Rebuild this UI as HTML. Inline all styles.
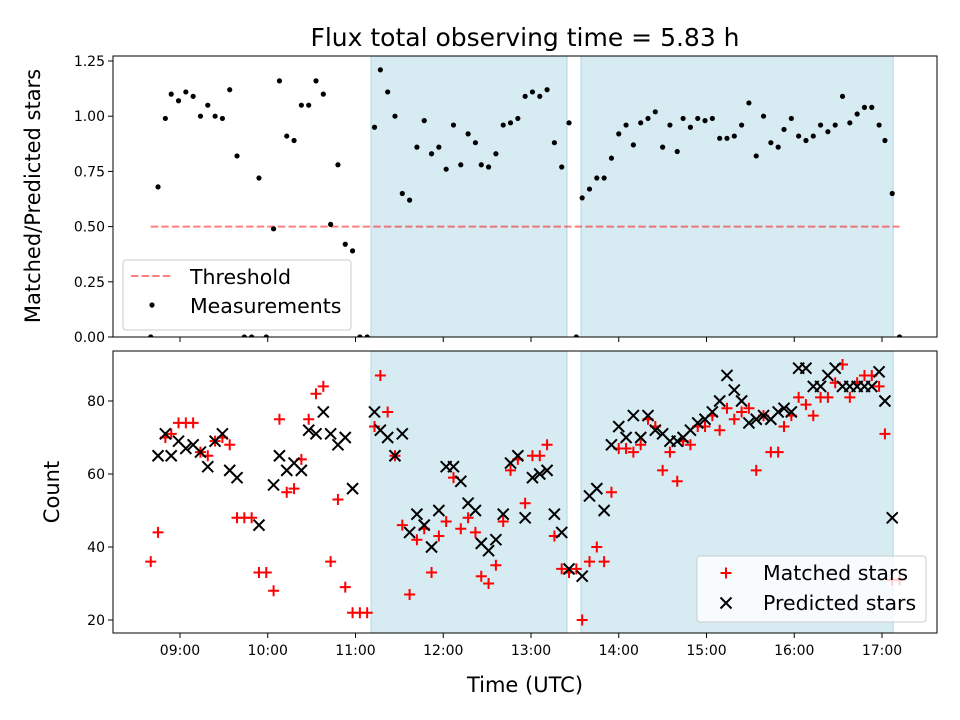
<!DOCTYPE html>
<html><head><meta charset="utf-8"><style>
body{margin:0;background:#fff;}
svg{display:block;font-family:"DejaVu Sans","Liberation Sans",sans-serif;}
</style></head><body>
<svg id="chart" width="960" height="720" viewBox="0 0 960 720" xmlns="http://www.w3.org/2000/svg">
<defs>
<clipPath id="clipTop"><rect x="113" y="56" width="824" height="281"/></clipPath>
<clipPath id="clipBot"><rect x="113" y="351" width="824" height="282"/></clipPath>
</defs>
<text x="525" y="46" font-size="25" text-anchor="middle">Flux total observing time = 5.83 h</text>
<g id="top"></g>
<g id="bot"></g>
<text transform="translate(40,196) rotate(-90)" font-size="21" text-anchor="middle">Matched/Predicted stars</text>
<text transform="translate(59,492) rotate(-90)" font-size="21" text-anchor="middle">Count</text>
<text x="525" y="692" font-size="21" text-anchor="middle">Time (UTC)</text>
</svg>
<script>
// times in minutes since midnight (UTC)
const times=[520,525,530,534,539,544,549,554,559,564,569,574,579,584,589,594,599,604,608,613,618,623,628,633,638,643,648,653,658,663,668,673,677,682,687,692,697,702,707,712,717,722,727,732,737,742,746,751,756,761,766,771,776,781,786,791,796,801,806,811,815,820,825,830,835,840,845,850,855,860,865,870,875,880,884,889,894,899,904,909,914,919,924,929,934,939,944,949,953,958,963,968,973,978,983,988,993,998,1003,1008,1013,1018,1022,1027,1032];
const ratios=[0,0.68,0.99,1.10,1.07,1.11,1.09,1.00,1.05,1.00,0.99,1.12,0.82,0,0,0.72,0,0.49,1.16,0.91,0.89,1.05,1.05,1.16,1.10,0.51,0.78,0.42,0.39,0,0,0.95,1.21,1.11,1.00,0.65,0.62,0.86,0.98,0.83,0.86,0.76,0.96,0.78,0.92,0.88,0.78,0.77,0.83,0.96,0.97,0.99,1.09,1.11,1.09,1.12,0.88,0.77,0.97,0,0.63,0.67,0.72,0.72,0.81,0.92,0.96,0.87,0.97,0.99,1.02,0.86,0.96,0.84,0.99,0.95,0.99,0.98,0.99,0.90,0.90,0.91,0.96,1.06,0.82,1.00,0.88,0.86,0.94,0.99,0.91,0.89,0.91,0.96,0.93,0.96,1.09,0.97,1.01,1.04,1.04,0.96,0.89,0.65,0];
const matched=[36,44,70,71,74,74,74,66,65,69,70,68,48,48,48,33,33,28,75,55,56,64,75,82,84,36,53,29,22,22,22,73,87,77,65,46,27,42,45,33,43,47,59,45,48,44,32,30,35,47,61,64,52,65,65,68,43,34,33,34,20,36,40,36,55,67,67,66,68,75,73,61,66,58,69,68,73,73,76,72,78,75,77,78,61,76,66,66,73,76,81,79,76,81,81,85,90,81,85,87,87,84,71,31,31];
const predicted=[null,65,71,65,69,67,68,66,62,69,71,61,59,null,null,46,null,57,65,61,63,61,72,71,77,71,68,70,56,null,null,77,72,70,65,71,44,49,46,40,50,62,62,58,52,50,41,39,42,49,63,65,48,59,60,61,49,44,34,null,32,54,56,50,68,73,70,76,70,76,72,71,69,69,70,72,74,75,77,80,87,83,80,74,75,76,75,77,78,77,89,89,84,84,87,89,84,84,84,84,84,88,80,48,null];
const spans=[[670.6,804.6],[814.2,1027.6]];
const threshold=0.5;
const xTickMinutes=[540,600,660,720,780,840,900,960,1020];
const xTickLabels=["09:00","10:00","11:00","12:00","13:00","14:00","15:00","16:00","17:00"];
const topTicks=[0,0.25,0.5,0.75,1.0,1.25];
const topTickLabels=["0.00","0.25","0.50","0.75","1.00","1.25"];
const botTicks=[20,40,60,80];
const botTickLabels=["20","40","60","80"];

const NS="http://www.w3.org/2000/svg";
const X0=113,X1=937,TMIN=494.2,TMAX=1057.6;
const xs=t=>X0+(t-TMIN)/(TMAX-TMIN)*(X1-X0);
const T={y0:337,y1:56,v0:0,v1:1.2727};
const B={y0:633,y1:351,v0:16.44,v1:93.7};
const yt=v=>T.y0+(v-T.v0)/(T.v1-T.v0)*(T.y1-T.y0);
const yb=v=>B.y0+(v-B.v0)/(B.v1-B.v0)*(B.y1-B.y0);
function mk(tag,attrs,parent){const e=document.createElementNS(NS,tag);for(const k in attrs)e.setAttribute(k,attrs[k]);parent.appendChild(e);return e;}

function panel(g,top,bottom,clip){
  const cg=mk('g',{'clip-path':'url(#'+clip+')'},g);
  spans.forEach((s,i)=>{
    const r=mk('rect',{x:xs(s[0]),y:top,width:xs(s[1])-xs(s[0]),height:bottom-top,fill:'#add8e6','fill-opacity':0.5,stroke:'#add8e6','stroke-width':1},cg);
    
    
  });
  return cg;
}
function frame(g,top,bottom,labels){
  xTickMinutes.forEach((m,i)=>{
    const x=xs(m);
    mk('line',{x1:x,x2:x,y1:bottom,y2:bottom+5,stroke:'#000','stroke-width':1},g);
    if(labels){const t=mk('text',{x:x,y:bottom+22,'font-size':14,'text-anchor':'middle'},g);t.textContent=xTickLabels[i];
      
      }
  });
  const r=mk('rect',{x:X0,y:top,width:X1-X0,height:bottom-top,fill:'none',stroke:'#000','stroke-width':1},g);
  
  
}
// TOP
const gt=document.getElementById('top');
const ct=panel(gt,56,337,'clipTop');
const th=mk('line',{x1:xs(times[0]),x2:xs(times[times.length-1]),y1:yt(threshold),y2:yt(threshold),stroke:'#ff0000','stroke-opacity':0.5,'stroke-width':2,'stroke-dasharray':'7.4,3.2'},ct);


times.forEach((t,i)=>{
  const c=mk('circle',{cx:xs(t),cy:yt(ratios[i]),r:2.6,fill:'#000'},ct);
  
  
});
topTicks.forEach((v,i)=>{
  const y=yt(v);
  mk('line',{x1:X0-5,x2:X0,y1:y,y2:y,stroke:'#000'},gt);
  const t=mk('text',{x:X0-8,y:y+5,'font-size':14,'text-anchor':'end'},gt);t.textContent=topTickLabels[i];
  
  
});
frame(gt,56,337,false);
// top legend
const lt=mk('g',{},gt);


mk('rect',{x:123,y:260,width:228,height:70,rx:3,fill:'#fff','fill-opacity':0.8,stroke:'#ccc'},lt);
mk('line',{x1:131,x2:173,y1:276,y2:276,stroke:'#ff0000','stroke-opacity':0.5,'stroke-width':2,'stroke-dasharray':'7.4,3.2'},lt);
let tx=mk('text',{x:190,y:284,'font-size':20.5},lt);tx.textContent='Threshold';
mk('circle',{cx:152,cy:305,r:2.6,fill:'#000'},lt);
tx=mk('text',{x:190,y:313,'font-size':20.5},lt);tx.textContent='Measurements';

// BOTTOM
const gb=document.getElementById('bot');
const cb=panel(gb,351,633,'clipBot');
function plus(g,x,y,s){mk('path',{d:`M${x-s} ${y}H${x+s}M${x} ${y-s}V${y+s}`,stroke:'#ff0000','stroke-width':2,fill:'none'},g);}
function cross(g,x,y,s){mk('path',{d:`M${x-s} ${y-s}L${x+s} ${y+s}M${x-s} ${y+s}L${x+s} ${y-s}`,stroke:'#000','stroke-width':2,fill:'none'},g);}
times.forEach((t,i)=>{
  const g=mk('g',{},cb);
  
  
  plus(g,xs(t),yb(matched[i]),5.5);
});
times.forEach((t,i)=>{
  if(predicted[i]===null)return;
  const g=mk('g',{},cb);
  
  
  cross(g,xs(t),yb(predicted[i]),5.5);
});
botTicks.forEach((v,i)=>{
  const y=yb(v);
  mk('line',{x1:X0-5,x2:X0,y1:y,y2:y,stroke:'#000'},gb);
  const t=mk('text',{x:X0-8,y:y+5,'font-size':14,'text-anchor':'end'},gb);t.textContent=botTickLabels[i];
  
  
});
frame(gb,351,633,true);
const lb=mk('g',{},gb);


mk('rect',{x:697,y:556,width:229,height:66,rx:3,fill:'#fff','fill-opacity':0.8,stroke:'#ccc'},lb);
plus(lb,726,573,5.5);
tx=mk('text',{x:763,y:580,'font-size':20.5},lb);tx.textContent='Matched stars';
cross(lb,726,603,5.5);
tx=mk('text',{x:763,y:610,'font-size':20.5},lb);tx.textContent='Predicted stars';
</script>
</body></html>
